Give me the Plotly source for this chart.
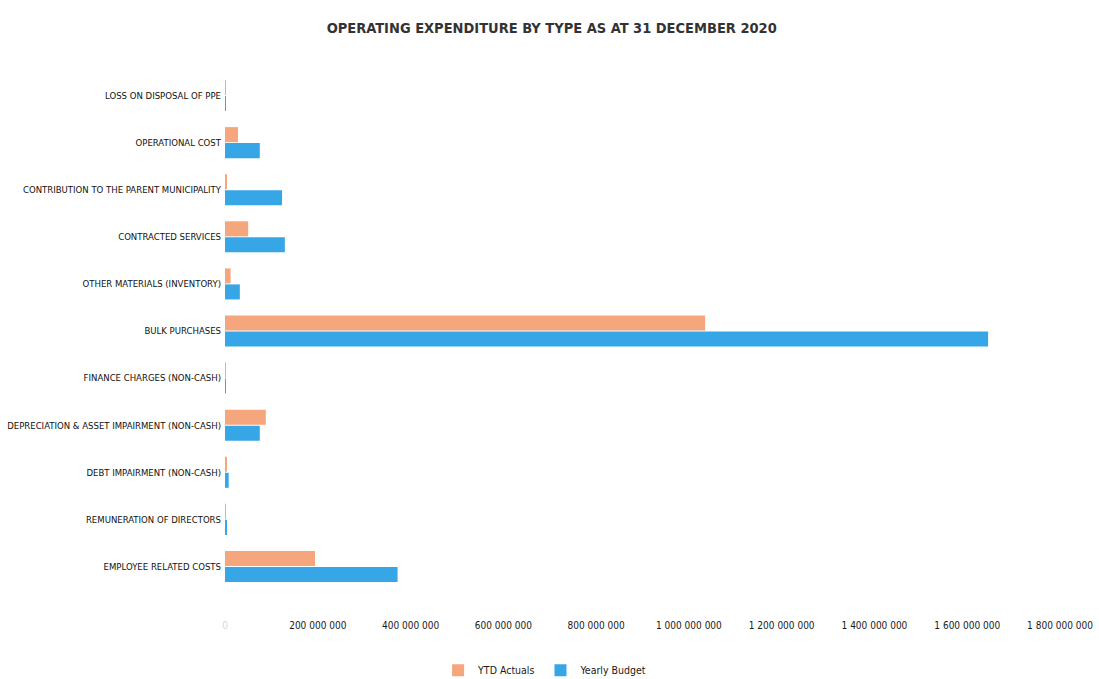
import plotly.graph_objects as go

# Expenditure categories, listed top to bottom as displayed
categories = [
    "LOSS ON DISPOSAL OF PPE",
    "OPERATIONAL COST",
    "CONTRIBUTION TO THE PARENT MUNICIPALITY",
    "CONTRACTED SERVICES",
    "OTHER MATERIALS (INVENTORY)",
    "BULK PURCHASES",
    "FINANCE CHARGES (NON-CASH)",
    "DEPRECIATION & ASSET IMPAIRMENT (NON-CASH)",
    "DEBT IMPAIRMENT (NON-CASH)",
    "REMUNERATION OF DIRECTORS",
    "EMPLOYEE RELATED COSTS",
]

ytd_actuals = [1e6, 28e6, 4e6, 50e6, 12e6, 1035e6, 1.5e6, 88e6, 3e6, 1.5e6, 194e6]
yearly_budget = [2e6, 75e6, 123e6, 129e6, 32e6, 1645e6, 2e6, 75e6, 8e6, 3e6, 372e6]

tick_values = [0, 200e6, 400e6, 600e6, 800e6, 1000e6, 1200e6, 1400e6, 1600e6, 1800e6]
tick_labels = [
    "<span style='color:#d8d8d8'>0</span>",
    "200 000 000", "400 000 000", "600 000 000", "800 000 000",
    "1 000 000 000", "1 200 000 000", "1 400 000 000", "1 600 000 000", "1 800 000 000",
]

font_family = "DejaVu Sans Condensed, Liberation Sans Narrow, sans-serif"

fig = go.Figure()
fig.add_trace(go.Bar(
    name="YTD Actuals", y=categories, x=ytd_actuals, orientation="h",
    marker=dict(color="#F6A67C", line=dict(width=0)),
))
fig.add_trace(go.Bar(
    name="Yearly Budget", y=categories, x=yearly_budget, orientation="h",
    marker=dict(color="#37A6E6", line=dict(width=0)),
))

fig.update_layout(
    width=1099, height=679,
    paper_bgcolor="white", plot_bgcolor="white",
    barmode="group", bargap=0.32, bargroupgap=0.06,
    margin=dict(l=225, r=39, t=72, b=89),
    font=dict(family=font_family, color="#1a1a1a"),
    title=dict(
        text="<b>OPERATING EXPENDITURE BY TYPE AS AT 31 DECEMBER 2020</b>",
        font=dict(family=font_family, size=14.5, color="#333333"),
        x=0.502, xref="container", xanchor="center",
        y=0.959, yref="container", yanchor="middle",
    ),
    xaxis=dict(
        range=[0, 1800e6], tickvals=tick_values, ticktext=tick_labels,
        showgrid=False, zeroline=False, showline=False, ticks="",
        tickfont=dict(family=font_family, size=10, color="#1a1a1a"),
        ticklabelstandoff=28, automargin=False,
    ),
    yaxis=dict(
        categoryorder="array", categoryarray=categories, autorange="reversed",
        showgrid=False, zeroline=False, showline=False, ticks="",
        tickfont=dict(family=font_family, size=9.5, color="#111111"),
        ticklabelstandoff=3, automargin=False,
    ),
    legend=dict(
        orientation="h", x=0.496, xref="container", xanchor="center",
        y=0.013, yref="container", yanchor="middle",
        font=dict(family=font_family, size=10.5, color="#1a1a1a"),
        itemwidth=30, traceorder="normal",
    ),
)

fig.write_html("out.html")
